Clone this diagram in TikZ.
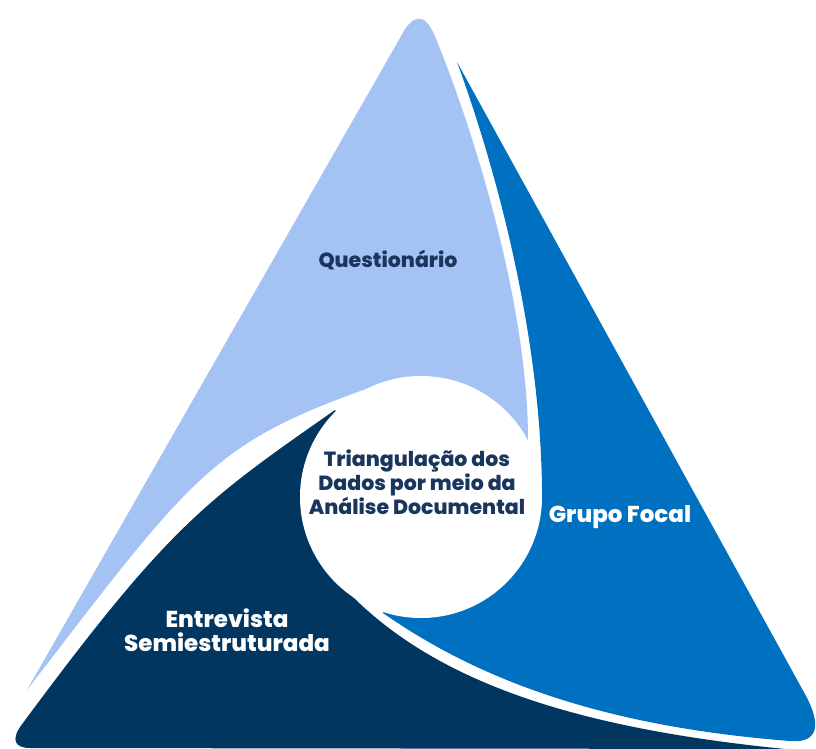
\documentclass[tikz,border=0pt]{standalone}
\usepackage{fontspec}
\setmainfont{Poppins}[BoldFont={Poppins ExtraBold}]

\definecolor{lightblade}{HTML}{A4C2F4}
\definecolor{midblade}{HTML}{0070C0}
\definecolor{darkblade}{HTML}{003660}
\definecolor{inktext}{HTML}{1B365D}

\tikzset{
  bladetext/.style={font=\bfseries\fontsize{20.5}{24}\selectfont, align=center, text=inktext},
  whitetext/.style={bladetext, font=\bfseries\fontsize{23}{24}\selectfont, text=white},
}

\begin{document}
\begin{tikzpicture}[x=1pt,y=-1pt] % one unit = one pixel of the original, y runs down

    % 0. fixed frame with a white background
    \fill[white] (0,0) rectangle (816,749);
    \useasboundingbox (0,0) rectangle (816,749);

    % 1. light blade: left side of the triangle, rounded apex, thin tip at the bottom left
    \fill[lightblade] (27,690) -- (400,38)
      .. controls (412,14) and (424,12) .. (434,34)
      .. controls (470,120) and (528,300) .. (528,440)
      -- (421,497) -- (383,383)
      .. controls (213,442) and (197,469) .. (27,690) -- cycle;

    % 2. middle blade: right side, sharp tip at the top, rounded corner at the bottom right
    \fill[midblade] (457,62) -- (806,696)
      .. controls (824,730) and (814,743) .. (790,741)
      .. controls (610,727) and (483,683) .. (383,613)
      -- (421,497) -- (542,497)
      .. controls (542,347) and (501,182) .. (457,62) -- cycle;

    % 3. dark blade: bottom side, sharp tip at the circle, rounded corner at the bottom left
    \fill[darkblade] (335,410)
      .. controls (205,501) and (170,524) .. (20,727)
      .. controls (12,739) and (14,748) .. (30,748)
      -- (785,749)
      .. controls (585,729) and (442,686) .. (352,596)
      -- (421,497) -- cycle;

    % 4. white circle in the middle (covers the inner ends of the blades)
    \fill[white] (421,497) circle[radius=121];

    % 5. texts
    \node[bladetext] (questionario) at (388,260) {Questionário};
    \node[whitetext] (grupo) at (620,517) {Grupo Focal};
    \node[whitetext] (entrevista) at (227,630) {Entrevista\\Semiestruturada};
    \node[bladetext] (centro) at (417,482) {Triangulação dos\\Dados por meio da\\Análise Documental};

\end{tikzpicture}
\end{document}
